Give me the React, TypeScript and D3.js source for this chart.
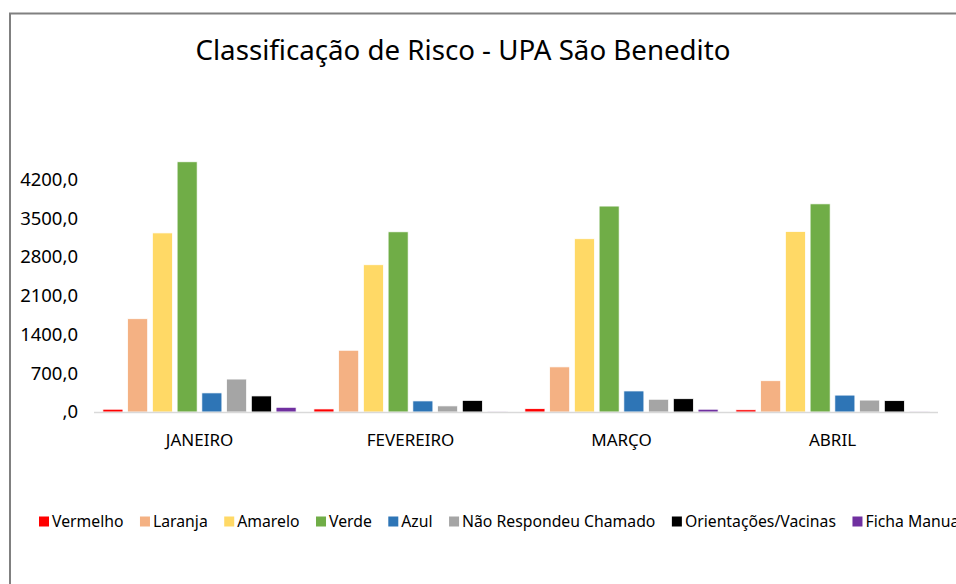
import * as d3 from "d3";
import { useEffect, useRef } from "react";

const months = ["JANEIRO", "FEVEREIRO", "MARÇO", "ABRIL"];
const seriesNames = ["Vermelho", "Laranja", "Amarelo", "Verde", "Azul", "Não Respondeu Chamado", "Orientações/Vacinas", "Ficha Manual"];
const seriesColors = ["#ff0000", "#f4b183", "#ffd966", "#70ad47", "#2e75b6", "#a5a5a5", "#000000", "#7030a0"];

const vermelho = [50, 55, 60, 40];
const laranja = [1685, 1115, 815, 565];
const amarelo = [3235, 2660, 3130, 3260];
const verde = [4520, 3255, 3720, 3760];
const azul = [345, 200, 380, 305];
const naoRespondeu = [595, 110, 230, 215];
const orientacoes = [290, 210, 240, 205];
const fichaManual = [85, 15, 50, 15];

const yTicks = [0, 700, 1400, 2100, 2800, 3500, 4200];

export default function App() {
    const ref = useRef<SVGSVGElement>(null);

    useEffect(() => {
        drawChart();
    }, []);

    function drawChart() {
        const svg = d3.select(ref.current);
        svg.selectAll("*").remove();
        const font = "'Noto Sans', sans-serif";
        const values = [vermelho, laranja, amarelo, verde, azul, naoRespondeu, orientacoes, fichaManual];

        // frame
        svg.append("path")
            .attr("d", "M10,600 L10,13.5 L970,13.5")
            .attr("fill", "none")
            .attr("stroke", "#808080")
            .attr("stroke-width", 2);

        // title
        svg.append("text")
            .attr("x", 463)
            .attr("y", 60)
            .attr("text-anchor", "middle")
            .attr("textLength", 535)
            .attr("lengthAdjust", "spacingAndGlyphs")
            .style("font-family", font)
            .style("font-size", "28px")
            .style("fill", "#000")
            .text("Classificação de Risco - UPA São Benedito");

        const x0 = d3.scaleBand().domain(months).range([94, 938]).padding(0);
        const x1 = d3.scaleBand().domain(seriesNames).range([0, x0.bandwidth()])
            .paddingInner(0.19).paddingOuter(0.36);
        const y = d3.scaleLinear().domain([0, 4200]).range([412, 179.5]);

        // y labels
        svg.append("g").selectAll("text").data(yTicks).enter().append("text")
            .attr("x", 78)
            .attr("y", d => y(d))
            .attr("dy", "0.35em")
            .attr("text-anchor", "end")
            .style("font-family", font)
            .style("font-size", "18.5px")
            .style("fill", "#000")
            .text(d => d3.format(".1f")(d).replace(".", ",").replace(/^0,/, ","));

        // bars
        const groups = svg.append("g").selectAll("g").data(months).enter().append("g")
            .attr("transform", d => "translate(" + x0(d) + ",0)");
        groups.selectAll("rect")
            .data((_m, i) => seriesNames.map((s, j) => ({ s, v: values[j][i], c: seriesColors[j] })))
            .enter().append("rect")
            .attr("x", d => x1(d.s)!)
            .attr("width", x1.bandwidth())
            .attr("y", d => y(d.v))
            .attr("height", d => y(0) - y(d.v))
            .attr("fill", d => d.c)
            .attr("stroke", "#ffffff")
            .attr("stroke-width", 0.75);

        // x axis line
        svg.append("line")
            .attr("x1", 94).attr("x2", 938)
            .attr("y1", 412.5).attr("y2", 412.5)
            .attr("stroke", "#d9d9d9")
            .attr("stroke-width", 1.5);

        // category labels
        svg.append("g").selectAll("text").data(months).enter().append("text")
            .attr("x", d => x0(d)! + x0.bandwidth() / 2)
            .attr("y", 446)
            .attr("text-anchor", "middle")
            .style("font-family", font)
            .style("font-size", "17px")
            .style("fill", "#000")
            .text(d => d);

        // legend (runs past the right edge, as in the original)
        const legend = svg.append("g");
        let lx = 39;
        seriesNames.forEach((name, i) => {
            legend.append("rect")
                .attr("x", lx).attr("y", 516.5)
                .attr("width", 10).attr("height", 10)
                .attr("fill", seriesColors[i]);
            const t = legend.append("text")
                .attr("x", lx + 13)
                .attr("y", 527)
                .style("font-family", font)
                .style("font-size", "15.75px")
                .style("fill", "#000")
                .text(name);
            const w = (t.node() as SVGTextElement).getComputedTextLength();
            lx = lx + 13 + w + 16.5;
        });
    }

    return (
        <div style={{ position: "absolute", left: 0, top: 0, width: 956, height: 584, background: "#fff" }}>
            <svg ref={ref} width={956} height={584} style={{ display: "block" }}></svg>
        </div>
    );
}
